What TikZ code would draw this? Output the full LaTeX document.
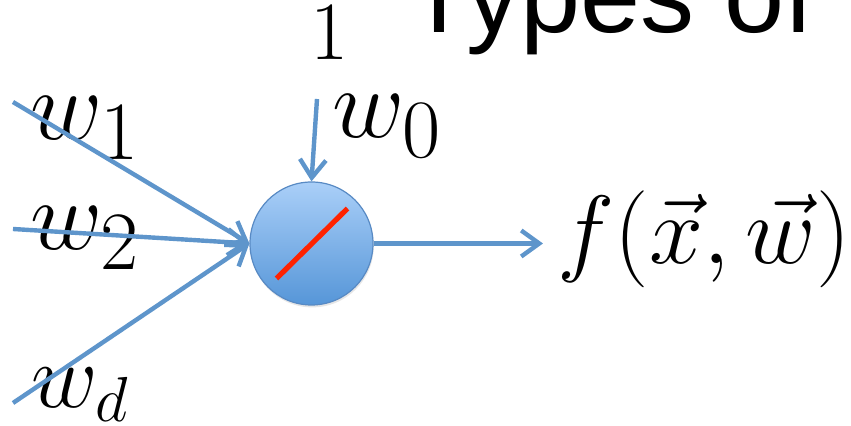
\documentclass[tikz,border=0pt]{standalone}
\usepackage{fontspec}
\newfontfamily\titlefont{Liberation Sans}
\usetikzlibrary{arrows.meta, calc, shadows}
\definecolor{clrLn} {RGB}{ 94,149,203}
\definecolor{clrTop}{RGB}{170,207,248}
\definecolor{clrBot}{RGB}{ 86,150,216}
\definecolor{clrBd} {RGB}{ 88,138,196}
\definecolor{clrRed}{RGB}{255, 34,  0}

\begin{document}
\begin{tikzpicture}[x=0.25pt, y=-0.25pt,
  %% ── node styles ──────────────────────────────────────────────────────────
  neuron/.style = {circle, minimum size=30.75pt, inner sep=0pt,
                   draw=clrBd, line width=0.3pt,
                   top color=clrTop, bottom color=clrBot,
                   drop shadow={shadow xshift=0.2pt, shadow yshift=-0.6pt,
                                opacity=0.2}},
  wlab/.style   = {inner sep=0pt, anchor=base west, font=\Huge},
  ttl/.style    = {inner sep=0pt, anchor=base west,
                   font=\fontsize{27}{31}\titlefont},
  %% ── arrow styles ─────────────────────────────────────────────────────────
  arr/.style    = {-{Straight Barb[length=4.5pt, width=6.5pt]},
                   line width=1.1pt, color=clrLn},
  slash/.style  = {line width=1.3pt, color=clrRed},
]
\useasboundingbox (0,0) rectangle (851,426);

%% ── title (cut off by the top edge) ──────────────────────────────────────
\node[ttl] (title) at (406,33) {Types of};

%% ── neuron ───────────────────────────────────────────────────────────────
\node[neuron] (nd) at (311.5,243.5) {};

%% ── labels ───────────────────────────────────────────────────────────────
\node[inner sep=0pt, anchor=base, font=\huge] (one) at (330,60) {$1$};
\node[wlab] (lw0) at (332,138) {$w_0$};
\node[wlab] (lw1) at (30,140)  {$w_1$};
\node[wlab] (lw2) at (30,250)  {$w_2$};
\node[wlab, scale=0.92, transform shape] (lwd) at (31,408)
      {$w_{\scriptscriptstyle d}$};
\node[wlab, scale=0.975, transform shape] (out) at (557,264)
      {$f(\vec{x},\vec{w})$};

%% ── free ends of the connectors ──────────────────────────────────────────
\coordinate (s0)  at (317,99);
\coordinate (s1)  at (13,102);
\coordinate (s2)  at (13,229);
\coordinate (sd)  at (13,403);
\coordinate (tip) at (543,243.5);

%% ── inputs and output ────────────────────────────────────────────────────
\draw[arr] (s1) -- (nd.west);
\draw[arr] (s2) -- (nd.west);
\draw[arr] (sd) -- (nd.west);
\draw[arr] (s0) -- (nd.north);
\draw[arr] (nd.east) -- (tip);

%% ── linear activation ────────────────────────────────────────────────────
\draw[slash] ($(nd.center)+(-35,35)$) -- ($(nd.center)+(36,-35)$);

\end{tikzpicture}
\end{document}
